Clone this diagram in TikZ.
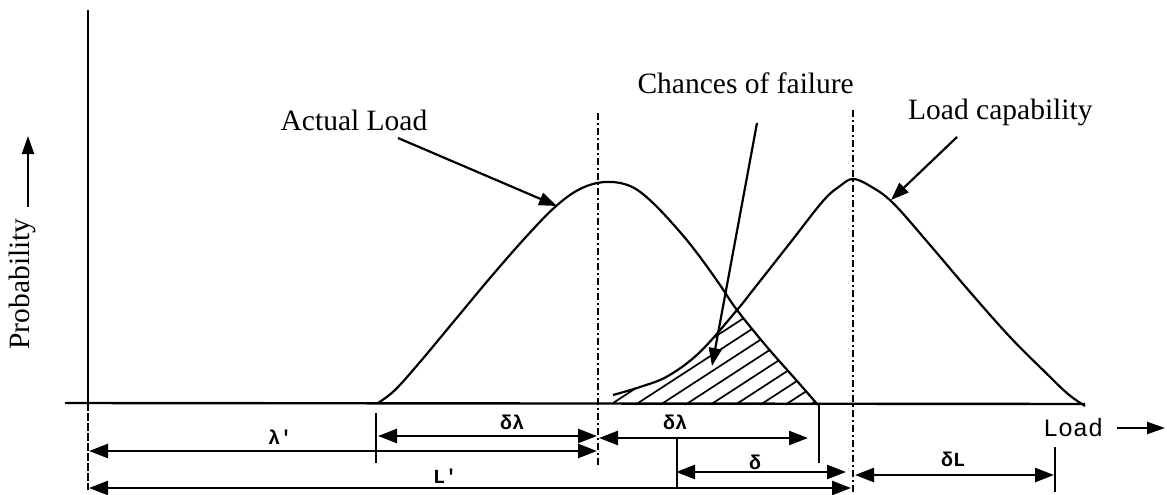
\documentclass[tikz,border=0pt]{standalone}
\usepackage{fontspec}
\setmainfont{Liberation Serif}
\newfontfamily\monofont{Liberation Mono}
\usetikzlibrary{arrows.meta}
\begin{document}
\begin{tikzpicture}[x=1pt,y=-1pt,
  curve/.style={line width=2.2pt,line join=round},
  axisline/.style={line width=2.4pt},
  extline/.style={line width=1.9pt,dash pattern=on 8pt off 2pt},
  dashdot/.style={line width=1.9pt,dash pattern=on 7pt off 3pt on 2pt off 3pt},
  tick/.style={line width=2.2pt},
  dimline/.style={line width=2.5pt,{Triangle[length=19pt,width=14pt]}-{Triangle[length=19pt,width=14pt]}},
  pointer/.style={line width=2.2pt,-{Triangle[length=18pt,width=13pt]}},
  bigtext/.style={font=\fontsize{29.5}{34}\selectfont,inner sep=0pt},
  dimtext/.style={font=\monofont\bfseries\fontsize{20}{22}\selectfont,inner sep=0pt},
  hatch/.style={line width=1.7pt}]
\useasboundingbox (0,0) rectangle (1167,495);
\fill[white] (0,0) rectangle (1167,495);

% axes
\coordinate (ytop) at (88,10);
\coordinate (orig) at (88,403);
\coordinate (ybot) at (88,490);
\coordinate (xleft) at (65,403);
\coordinate (xright) at (1085,404);
\draw[axisline] (ytop) -- (orig);
\draw[axisline] (xleft) -- (xright);
\draw[extline] (orig) -- (ybot);

% dash-dot centre lines
\coordinate (c1t) at (598,113);
\coordinate (c1b) at (598,468);
\coordinate (c2t) at (853,110);
\coordinate (c2b) at (853,492);
\draw[dashdot] (c1t) -- (c1b);
\draw[dashdot] (c2t) -- (c2b);

% hatched region
\begin{scope}
\clip plot[smooth] coordinates {(613,395) (640,387) (668,376) (700,352) (737,310)}
  -- plot[smooth] coordinates {(737,310) (767,347) (797,381) (818,405)}
  -- (613,405) -- cycle;
\foreach \s in {560,585,...,835}
  \draw[hatch] (\s,405) -- ++(0.839*220,-0.545*220);
\end{scope}

% actual load curve
\draw[curve] plot[smooth,tension=0.6] coordinates {(378,403) (395,390) (420,362) (455,320) (490,278) (525,238) (555,207) (580,189) (605,182) (630,186) (652,202) (680,232) (700,257) (720,285) (737,310) (767,347) (797,381) (818,405)};

% load capability curve
\draw[curve] plot[smooth,tension=0.6] coordinates {(613,395) (640,387) (668,376) (700,352) (737,310) (753,290) (790,243) (823,201) (840,186) (853,179) (870,186) (893,203) (930,245) (970,292) (1010,337) (1045,372) (1068,394) (1085,406)};

% labels and pointers
\node[bigtext] (al) at (354,120) {Actual Load};
\node[bigtext,anchor=east] (cf) at (854,83) {Chances of failure};
\node[bigtext,anchor=west] (lc) at (908,112) {Load capability};
\coordinate (alp) at (398,138);
\coordinate (alt) at (557,206);
\coordinate (cfp) at (757,123);
\coordinate (cft) at (712,366);
\coordinate (lcp) at (957,137);
\coordinate (lct) at (891,200);
\draw[pointer] (alp) -- (alt);
\draw[pointer] (cfp) -- (cft);
\draw[pointer] (lcp) -- (lct);

% probability axis label
\node[bigtext,rotate=90] (prob) at (22,284) {Probability};
\coordinate (pa1) at (28,207);
\coordinate (pa2) at (28,136);
\draw[line width=2.2pt,-{Triangle[length=18pt,width=12pt]}] (pa1) -- (pa2);

% load axis label
\node[font=\monofont\fontsize{25}{27}\selectfont,inner sep=0pt] (load) at (1073,428) {Load};
\coordinate (la1) at (1117,428);
\coordinate (la2) at (1165,428);
\draw[line width=2.2pt,-{Triangle[length=18pt,width=12pt]}] (la1) -- (la2);

% ticks
\coordinate (t1a) at (376,413); \coordinate (t1b) at (376,463);
\coordinate (t2a) at (677,438); \coordinate (t2b) at (677,489);
\coordinate (t3a) at (819,405); \coordinate (t3b) at (819,463);
\coordinate (t4a) at (1055,447); \coordinate (t4b) at (1055,492);
\draw[tick] (t1a) -- (t1b);
\draw[tick] (t2a) -- (t2b);
\draw[tick] (t3a) -- (t3b);
\draw[tick] (t4a) -- (t4b);

% dimension lines
\coordinate (d1a) at (378,436); \coordinate (d1b) at (597,436);
\draw[dimline] (d1a) -- (d1b);
\node[dimtext] (d1l) at (512,422) {δλ};

\coordinate (d2a) at (599,438); \coordinate (d2b) at (808,438);
\draw[dimline] (d2a) -- (d2b);
\node[dimtext] (d2l) at (675,422) {δλ};

\coordinate (d3a) at (89,451); \coordinate (d3b) at (597,451);
\draw[dimline] (d3a) -- (d3b);
\node[dimtext] (d3l) at (280,437) {λ'};

\coordinate (d4a) at (676,472); \coordinate (d4b) at (846,472);
\draw[dimline] (d4a) -- (d4b);
\node[dimtext] (d4l) at (755,462) {δ};

\coordinate (d5a) at (89,488); \coordinate (d5b) at (851,488);
\draw[dimline] (d5a) -- (d5b);
\node[dimtext] (d5l) at (445,476) {L'};

\coordinate (d6a) at (855,475); \coordinate (d6b) at (1054,475);
\draw[dimline] (d6a) -- (d6b);
\node[dimtext] (d6l) at (953,459) {δL};
\end{tikzpicture}
\end{document}
